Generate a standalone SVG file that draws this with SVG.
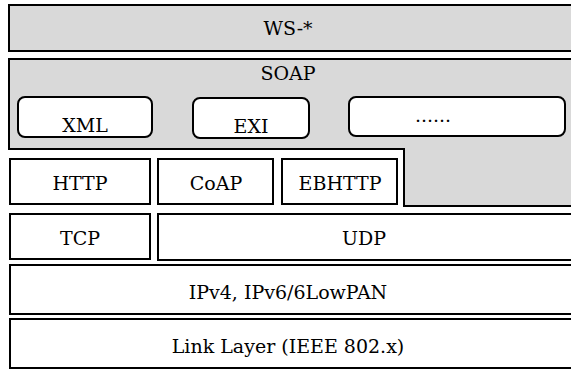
<svg xmlns="http://www.w3.org/2000/svg" width="571" height="369" viewBox="0 0 571 369">
<style>
.g{fill:#d9d9d9;stroke:#000;stroke-width:2}
.w{fill:#fff;stroke:#000;stroke-width:2}
.t{font-family:'DejaVu Serif',serif;font-size:19px;fill:#000;text-anchor:middle}
</style>
<rect width="571" height="369" fill="#fff"/>
<g id="ws"><rect class="g" x="9" y="5" width="570" height="46"/><text class="t" x="288" y="35">WS-*</text></g>
<g id="soap"><path class="g" d="M9 59 H580 V206 H404 V149 H9 Z"/><text class="t" x="288" y="80">SOAP</text></g>
<g id="xml"><rect class="w" x="18" y="97" width="134" height="40" rx="7"/><text class="t" x="85" y="132">XML</text></g>
<g id="exi"><rect class="w" x="193" y="98" width="116" height="40" rx="7"/><text class="t" x="251" y="133">EXI</text></g>
<g id="more"><rect class="w" x="349" y="97" width="216" height="39" rx="7"/><text class="t" x="433" y="122">......</text></g>
<g id="http"><rect class="w" x="10" y="159" width="140" height="45"/><text class="t" x="80" y="190">HTTP</text></g>
<g id="coap"><rect class="w" x="158" y="159" width="115" height="45"/><text class="t" x="216" y="190">CoAP</text></g>
<g id="ebhttp"><rect class="w" x="282" y="159" width="115" height="45"/><text class="t" x="340" y="190">EBHTTP</text></g>
<g id="tcp"><rect class="w" x="10" y="214" width="140" height="45"/><text class="t" x="80" y="245">TCP</text></g>
<g id="udp"><rect class="w" x="158" y="214" width="420" height="46"/><text class="t" x="364" y="245">UDP</text></g>
<g id="ip"><rect class="w" x="10" y="265" width="570" height="49"/><text class="t" x="288" y="299">IPv4, IPv6/6LowPAN</text></g>
<g id="link"><rect class="w" x="10" y="319" width="570" height="49"/><text class="t" x="288" y="353">Link Layer (IEEE 802.x)</text></g>
<g id="connectors"/>
</svg>
